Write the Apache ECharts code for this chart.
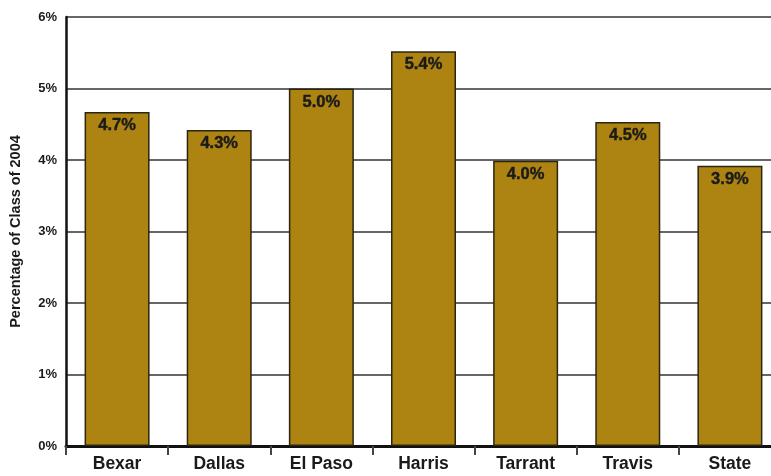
<!DOCTYPE html>
<html>
<head>
<meta charset="utf-8">
<script src="https://cdn.jsdelivr.net/npm/echarts@6/dist/echarts.min.js"></script>
<style>
  html, body { margin: 0; padding: 0; background: #fff; }
  #main { width: 771px; height: 476px; }
</style>
</head>
<body>
<div id="main"></div>
<script>
const categories = ['Bexar', 'Dallas', 'El Paso', 'Harris', 'Tarrant', 'Travis', 'State'];
// bar heights as drawn in the picture
const values = [4.67, 4.42, 5.0, 5.52, 3.99, 4.53, 3.92];
// printed labels on the bars
const barLabels = ['4.7%', '4.3%', '5.0%', '5.4%', '4.0%', '4.5%', '3.9%'];
const yTicks = [0, 1, 2, 3, 4, 5, 6];

const chart = echarts.init(document.getElementById('main'));
chart.setOption({
  animation: false,
  grid: { left: 66, top: 17, width: 715, height: 429, outerBoundsMode: 'none', containLabel: false },
  xAxis: {
    type: 'category',
    data: categories,
    axisLine: { lineStyle: { color: '#111', width: 3 } },
    axisTick: { show: true, alignWithLabel: false, length: 9, lineStyle: { color: '#444', width: 2 } },
    axisLabel: { color: '#1a1a1a', fontFamily: 'Liberation Sans', fontWeight: 'bold', fontSize: 17.5, margin: 9 }
  },
  yAxis: {
    type: 'value',
    min: yTicks[0],
    max: yTicks[yTicks.length - 1],
    interval: 1,
    name: 'Percentage of Class of 2004',
    nameLocation: 'middle',
    nameGap: 43,
    nameTextStyle: { color: '#1a1a1a', fontFamily: 'Liberation Sans', fontWeight: 'bold', fontSize: 14.5 },
    axisLine: { show: true, lineStyle: { color: '#111', width: 2.5 } },
    axisTick: { show: false },
    axisLabel: {
      color: '#1a1a1a', fontFamily: 'Liberation Sans', fontWeight: 'bold', fontSize: 13, margin: 9,
      formatter: v => v + '%'
    },
    splitLine: { lineStyle: { color: '#333', width: 1.5 } }
  },
  series: [{
    type: 'bar',
    data: values,
    barWidth: 65,
    itemStyle: { color: '#AD8311', borderColor: '#2b2612', borderWidth: 1.5 },
    label: {
      show: true,
      position: 'insideTop',
      distance: 5,
      color: '#1a1a1a',
      fontFamily: 'Liberation Sans',
      fontWeight: 'bold',
      fontSize: 16.5,
      textBorderColor: '#1a1a1a',
      textBorderWidth: 0.4,
      formatter: p => barLabels[p.dataIndex]
    }
  }]
});
</script>
</body>
</html>
